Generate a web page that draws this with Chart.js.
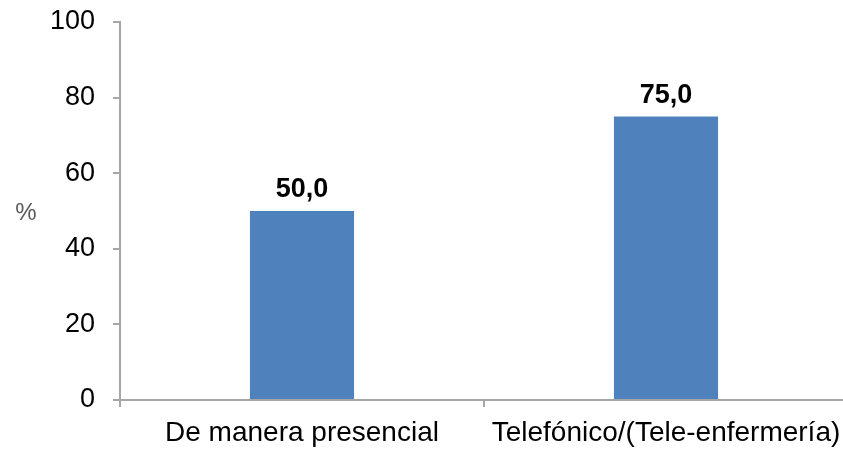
<!DOCTYPE html>
<html lang="es">
<head>
  <meta charset="UTF-8">
  <title>Modalidad</title>
  <script src="https://cdn.jsdelivr.net/npm/chart.js"></script>
</head>
<style>
  html, body {
    margin: 0;
    padding: 0;
    background: #ffffff;
    overflow: hidden;
  }
  .chart-container {
    width: 860px;
    height: 451px;
  }
</style>
<body>
  <div class="chart-container">
    <canvas id="chartCanvas" width="860" height="451"></canvas>
  </div>

  <script>
    const categories = ['De manera presencial', 'Telefónico/(Tele-enfermería)'];
    const values = [50.0, 75.0];
    const yTicks = [0, 20, 40, 60, 80, 100];

    const axisColor = '#a6a6a6';
    const fontFamily = 'Arial, "Liberation Sans", sans-serif';

    // etiquetas de valor encima de cada barra
    const valueLabels = {
      id: 'valueLabels',
      afterDatasetsDraw(chart) {
        const ctx = chart.ctx;
        const meta = chart.getDatasetMeta(0);
        ctx.save();
        ctx.font = 'bold 27px ' + fontFamily;
        ctx.fillStyle = '#000000';
        ctx.textAlign = 'center';
        ctx.textBaseline = 'alphabetic';
        meta.data.forEach((bar, i) => {
          const txt = values[i].toFixed(1).replace('.', ',');
          ctx.fillText(txt, bar.x, bar.y - 14);
        });
        ctx.restore();
      }
    };

    // el "%" horizontal a la izquierda del eje
    const yUnit = {
      id: 'yUnit',
      afterDraw(chart) {
        const ctx = chart.ctx;
        const area = chart.chartArea;
        ctx.save();
        ctx.font = '24px ' + fontFamily;
        ctx.fillStyle = '#595959';
        ctx.textAlign = 'center';
        ctx.textBaseline = 'middle';
        ctx.fillText('%', 26, (area.top + area.bottom) / 2 + 2);
        ctx.restore();
      }
    };

    const ctx = document.getElementById('chartCanvas').getContext('2d');
    const chart = new Chart(ctx, {
      type: 'bar',
      data: {
        labels: categories,
        datasets: [{
          data: values,
          backgroundColor: '#4f81bd',
          borderWidth: 0,
          categoryPercentage: 1,
          barPercentage: 0.286
        }]
      },
      options: {
        responsive: false,
        animation: { duration: 0 },
        layout: {
          padding: { top: 22, right: 12, left: 0, bottom: 0 }
        },
        plugins: {
          legend: { display: false },
          tooltip: { enabled: false }
        },
        scales: {
          x: {
            afterFit: (scale) => {
              scale.height = 51;
              scale.paddingLeft = 0;
              scale.paddingRight = 0;
            },
            border: { display: true, color: axisColor, width: 2 },
            grid: {
              offset: true,
              drawOnChartArea: false,
              tickLength: 7,
              color: axisColor,
              lineWidth: 2
            },
            ticks: {
              color: '#000000',
              padding: 9,
              maxRotation: 0,
              font: { family: fontFamily, size: 28 }
            }
          },
          y: {
            min: 0,
            max: 100,
            afterFit: (scale) => {
              scale.width = 120;
              scale.paddingTop = 0;
              scale.paddingBottom = 0;
            },
            afterBuildTicks: (scale) => {
              scale.ticks = yTicks.map(v => ({ value: v }));
            },
            border: { display: true, color: axisColor, width: 2 },
            grid: {
              drawOnChartArea: false,
              tickLength: 7,
              color: axisColor,
              lineWidth: 2
            },
            ticks: {
              color: '#000000',
              padding: 18,
              font: { family: fontFamily, size: 27 }
            }
          }
        }
      },
      plugins: [valueLabels, yUnit]
    });
  </script>
</body>
</html>
